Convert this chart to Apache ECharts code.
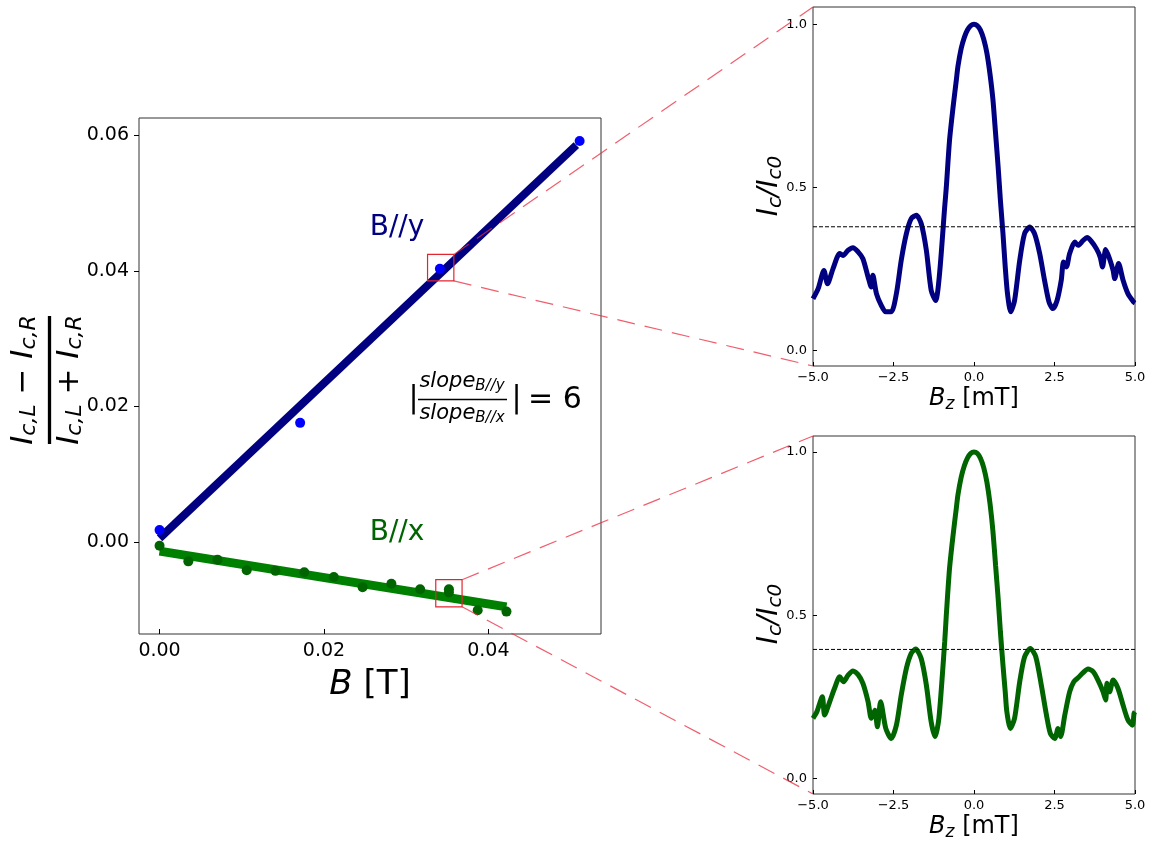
<!DOCTYPE html>
<html><head><meta charset="utf-8">
<script src="https://cdn.jsdelivr.net/npm/echarts@6/dist/echarts.min.js"></script>
<style>html,body{margin:0;padding:0;background:#fff}#c{width:1153px;height:842px}</style>
</head><body><div id="c"></div>
<script>
// ---------- main panel data ----------
const fieldY_B = [0.0, 0.0171, 0.0341, 0.0511];
const fieldY_V = [0.0018, 0.0176, 0.0403, 0.0591];
const fitY_B = [0.0, 0.0507];
const fitY_V = [0.0006, 0.0585];
const fieldX_B = [0.0, 0.0035, 0.00705, 0.0106, 0.0141, 0.0176, 0.0212, 0.0247, 0.0282, 0.0317, 0.0352, 0.0352, 0.0387, 0.0422];
const fieldX_V = [-0.0005, -0.0028, -0.00255, -0.0041, -0.0042, -0.0044, -0.0051, -0.0066, -0.0061, -0.0069, -0.0069, -0.0074, -0.0100, -0.0102];
const fitX_B = [0.0, 0.0422];
const fitX_V = [-0.0013, -0.0095];
const mainXTicks = [0, 0.02, 0.04];
const mainYTicks = [0, 0.02, 0.04, 0.06];
// zoom boxes (data coords of main panel)
const boxY_B = [0.0326, 0.0358];
const boxY_V = [0.0385, 0.0424];
const boxX_B = [0.0336, 0.0368];
const boxX_V = [-0.0095, -0.0055];

// ---------- inset curves ----------
const topBz = [-5.0,-4.84,-4.66,-4.55,-4.38,-4.17,-4.07,-3.91,-3.76,-3.60,-3.45,-3.29,-3.19,-3.14,-3.03,-2.88,-2.74,-2.57,-2.41,-2.26,-2.10,-1.95,-1.79,-1.64,-1.48,-1.33,-1.19,-1.07,-0.91,-0.86,-0.76,-0.65,-0.55,-0.5,-0.4,-0.3,-0.2,-0.1,0,0.1,0.2,0.3,0.4,0.5,0.59,0.67,0.75,0.82,0.90,0.97,1.04,1.14,1.26,1.42,1.57,1.73,1.88,2.04,2.19,2.33,2.45,2.58,2.71,2.78,2.87,2.97,3.13,3.23,3.39,3.51,3.64,3.80,3.92,3.99,4.09,4.21,4.32,4.37,4.49,4.63,4.78,4.96,5.0];
const topIc = [0.158,0.189,0.245,0.204,0.25,0.297,0.291,0.307,0.315,0.302,0.281,0.225,0.194,0.23,0.174,0.138,0.118,0.118,0.174,0.276,0.358,0.404,0.414,0.389,0.307,0.184,0.153,0.235,0.44,0.50,0.644,0.746,0.828,0.87,0.925,0.96,0.983,0.996,1.0,0.996,0.982,0.955,0.912,0.845,0.767,0.665,0.562,0.46,0.358,0.256,0.174,0.118,0.153,0.276,0.358,0.378,0.358,0.297,0.215,0.148,0.128,0.153,0.215,0.271,0.256,0.297,0.332,0.322,0.337,0.346,0.335,0.312,0.286,0.256,0.309,0.281,0.245,0.22,0.266,0.215,0.174,0.148,0.145];
const botBz = [-5.0,-4.88,-4.71,-4.64,-4.48,-4.33,-4.17,-4.05,-3.91,-3.76,-3.60,-3.45,-3.29,-3.19,-3.08,-3.00,-2.90,-2.74,-2.57,-2.41,-2.26,-2.10,-1.95,-1.81,-1.64,-1.48,-1.33,-1.21,-1.09,-0.91,-0.86,-0.76,-0.65,-0.55,-0.5,-0.4,-0.3,-0.2,-0.1,0,0.1,0.2,0.3,0.4,0.5,0.59,0.67,0.75,0.82,0.90,0.97,1.02,1.13,1.26,1.42,1.57,1.75,1.92,2.09,2.25,2.37,2.51,2.61,2.69,2.82,2.97,3.10,3.23,3.39,3.54,3.70,3.85,4.01,4.09,4.13,4.21,4.32,4.47,4.63,4.78,4.92,4.97,5.0];
const botIc = [0.184,0.204,0.25,0.194,0.235,0.276,0.311,0.296,0.316,0.329,0.318,0.291,0.235,0.184,0.209,0.158,0.235,0.153,0.122,0.163,0.255,0.337,0.383,0.396,0.367,0.286,0.173,0.128,0.184,0.418,0.50,0.643,0.745,0.827,0.868,0.922,0.958,0.982,0.996,1.0,0.996,0.981,0.953,0.908,0.84,0.755,0.653,0.551,0.449,0.347,0.265,0.204,0.153,0.184,0.296,0.372,0.398,0.372,0.286,0.194,0.138,0.122,0.153,0.128,0.194,0.265,0.296,0.308,0.324,0.335,0.327,0.301,0.265,0.240,0.291,0.265,0.301,0.276,0.224,0.179,0.163,0.199,0.204];
const topThreshold = [0.379, 0.379];
const botThreshold = [0.395, 0.395];
const thresholdBz = [-5, 5];
const subXTicks = [-5, -2.5, 0, 2.5, 5];
const subYTicks = [0, 0.5, 1.0];

const FONT = 'DejaVu Sans';
const zip = (a, b) => a.map((v, i) => [v, b[i]]);
const fmt2 = v => { const s = Math.abs(v).toFixed(2); return v < -1e-12 ? '\u2212' + s : s; };
const fmt1 = v => { const s = Math.abs(v).toFixed(1); return v < -1e-12 ? '\u2212' + s : s; };

function xAx(grid, min, max, ticks, fmt, fs, margin, name, nameGap, nameFs, subFs) {
  return {
    gridIndex: grid, type: 'value', min: min, max: max,
    axisLine: { show: false, onZero: false }, splitLine: { show: false },
    axisTick: { show: true, inside: true, length: grid === 0 ? 5 : 4, lineStyle: { color: '#000', width: 1 }, customValues: ticks },
    axisLabel: { customValues: ticks, formatter: fmt, fontSize: fs, color: '#000', fontFamily: FONT, margin: margin },
    name: name, nameLocation: 'middle', nameGap: nameGap,
    nameTextStyle: { fontSize: nameFs, fontFamily: FONT, color: '#000', lineHeight: nameFs,
      rich: { i: { fontStyle: 'italic', fontSize: nameFs, fontFamily: FONT, color: '#000', lineHeight: nameFs + 4 },
              s: { fontStyle: 'italic', fontSize: subFs, fontFamily: FONT, color: '#000', lineHeight: subFs - 2, verticalAlign: 'bottom' },
              r: { fontSize: nameFs, fontFamily: FONT, color: '#000', lineHeight: nameFs + 4 } } }
  };
}
function yAx(grid, min, max, ticks, fmt, fs, margin, inside, len) {
  return {
    gridIndex: grid, type: 'value', min: min, max: max,
    axisLine: { show: false, onZero: false }, splitLine: { show: false },
    axisTick: { show: true, inside: inside, length: len, lineStyle: { color: '#000', width: 1 }, customValues: ticks },
    axisLabel: { customValues: ticks, formatter: fmt, fontSize: fs, color: '#000', fontFamily: FONT, margin: margin }
  };
}

const gridStyle = { show: true, borderColor: '#333', borderWidth: 1, backgroundColor: 'transparent', containLabel: false };

const option = {
  animation: false,
  backgroundColor: '#fff',
  grid: [
    Object.assign({ left: 139, top: 118, width: 462, height: 516 }, gridStyle),
    Object.assign({ left: 813, top: 7, width: 322, height: 359 }, gridStyle),
    Object.assign({ left: 813, top: 436, width: 322, height: 358 }, gridStyle)
  ],
  xAxis: [
    xAx(0, -0.0025, 0.0537, mainXTicks, fmt2, 19, 8, '{i|B}{r| [T]}', 26, 34, 24),
    xAx(1, -5, 5, subXTicks, fmt1, 13, 5, '{i|B}{s|z}{r| [mT]}', 16, 24, 17),
    xAx(2, -5, 5, subXTicks, fmt1, 13, 5, '{i|B}{s|z}{r| [mT]}', 16, 24, 17)
  ],
  yAxis: [
    yAx(0, -0.0135, 0.0625, mainYTicks, fmt2, 19, 10, false, 5),
    yAx(1, -0.048, 1.053, subYTicks, fmt1, 13, 6, true, 4),
    yAx(2, -0.048, 1.049, subYTicks, fmt1, 13, 6, true, 4)
  ],
  series: [
    { type: 'line', xAxisIndex: 0, yAxisIndex: 0, data: zip(fitX_B, fitX_V), symbol: 'none',
      lineStyle: { color: '#008000', width: 9, cap: 'butt' }, z: 2 },
    { type: 'line', xAxisIndex: 0, yAxisIndex: 0, data: zip(fitY_B, fitY_V), symbol: 'none',
      lineStyle: { color: '#000080', width: 8, cap: 'butt' }, z: 2 },
    { type: 'scatter', xAxisIndex: 0, yAxisIndex: 0, data: zip(fieldY_B, fieldY_V), symbolSize: 10,
      itemStyle: { color: '#0000ff', opacity: 1 }, z: 3 },
    { type: 'scatter', xAxisIndex: 0, yAxisIndex: 0, data: zip(fieldX_B, fieldX_V), symbolSize: 10,
      itemStyle: { color: '#006400', opacity: 1 }, z: 3 },
    { type: 'line', xAxisIndex: 1, yAxisIndex: 1, data: zip(topBz, topIc), symbol: 'none', smooth: 0.25,
      lineStyle: { color: '#000080', width: 5 }, z: 2 },
    { type: 'line', xAxisIndex: 1, yAxisIndex: 1, data: zip(thresholdBz, topThreshold), symbol: 'none',
      lineStyle: { color: '#000', width: 1, type: [4, 2] }, z: 3 },
    { type: 'line', xAxisIndex: 2, yAxisIndex: 2, data: zip(botBz, botIc), symbol: 'none', smooth: 0.25,
      lineStyle: { color: '#006400', width: 5 }, z: 2 },
    { type: 'line', xAxisIndex: 2, yAxisIndex: 2, data: zip(thresholdBz, botThreshold), symbol: 'none',
      lineStyle: { color: '#000', width: 1, type: [4, 2] }, z: 3 }
  ]
};

const chart = echarts.init(document.getElementById('c'), null, { renderer: 'canvas' });
chart.setOption(option);

// ---------- annotations ----------
const px = (g, p) => chart.convertToPixel({ gridIndex: g }, p);
const RED = '#e3262e';
const DASH = 'rgba(235,40,60,0.75)';
const g = [];

function box(bs, vs) {
  const a = px(0, [bs[0], vs[1]]), b = px(0, [bs[1], vs[0]]);
  g.push({ type: 'rect', shape: { x: a[0], y: a[1], width: b[0] - a[0], height: b[1] - a[1] },
           style: { fill: 'none', stroke: RED, lineWidth: 1.2 }, z: 50 });
  return { tr: [b[0], a[1]], br: [b[0], b[1]] };
}
function dashLine(p1, p2) {
  g.push({ type: 'line', shape: { x1: p1[0], y1: p1[1], x2: p2[0], y2: p2[1] },
           style: { stroke: DASH, lineWidth: 1.2, lineDash: [18, 10] }, z: 60 });
}
const bY = box(boxY_B, boxY_V);
const bX = box(boxX_B, boxX_V);
dashLine(bY.tr, px(1, [-5, 1.053]));
dashLine(bY.br, px(1, [-5, -0.048]));
dashLine(bX.tr, px(2, [-5, 1.049]));
dashLine(bX.br, px(2, [-5, -0.048]));

// series labels
g.push({ type: 'text', x: 397, y: 228, style: { text: 'B//y', fill: '#000080', font: '28px "DejaVu Sans"', align: 'center', verticalAlign: 'middle' }, z: 40 });
g.push({ type: 'text', x: 397, y: 533, style: { text: 'B//x', fill: '#006400', font: '28px "DejaVu Sans"', align: 'center', verticalAlign: 'middle' }, z: 40 });

// slope ratio annotation
const richSlope = {
  i: { fontFamily: FONT, fontStyle: 'italic', fontSize: 21, lineHeight: 24, fill: '#000', color: '#000' },
  s: { fontFamily: FONT, fontStyle: 'italic', fontSize: 15, lineHeight: 14, verticalAlign: 'bottom', color: '#000' }
};
g.push({ type: 'text', x: 462, y: 394, style: { text: '{i|slope}{s|B//y}', rich: richSlope, align: 'center', verticalAlign: 'bottom', fill: '#000' }, z: 40 });
g.push({ type: 'text', x: 462, y: 402, style: { text: '{i|slope}{s|B//x}', rich: richSlope, align: 'center', verticalAlign: 'top', fill: '#000' }, z: 40 });
g.push({ type: 'line', shape: { x1: 418, y1: 399.5, x2: 507, y2: 399.5 }, style: { stroke: '#000', lineWidth: 1.5 }, z: 40 });
g.push({ type: 'text', x: 413.5, y: 399, style: { text: '|', font: '30px "DejaVu Sans"', fill: '#000', align: 'center', verticalAlign: 'middle' }, z: 40 });
g.push({ type: 'text', x: 516.5, y: 399, style: { text: '|', font: '30px "DejaVu Sans"', fill: '#000', align: 'center', verticalAlign: 'middle' }, z: 40 });
g.push({ type: 'text', x: 528, y: 400, style: { text: '= 6', font: '30px "DejaVu Sans"', fill: '#000', align: 'left', verticalAlign: 'middle' }, z: 40 });

// main y-axis label (fraction), rotated
const richFrac = {
  i: { fontFamily: FONT, fontStyle: 'italic', fontSize: 31, lineHeight: 34, color: '#000' },
  s: { fontFamily: FONT, fontStyle: 'italic', fontSize: 22, lineHeight: 18, verticalAlign: 'bottom', color: '#000' },
  o: { fontFamily: FONT, fontSize: 31, lineHeight: 34, color: '#000' }
};
g.push({ type: 'group', x: 49.5, y: 380, rotation: Math.PI / 2, z: 40, children: [
  { type: 'text', x: 0, y: -9, style: { text: '{i|I}{s|c,L}{o| \u2212 }{i|I}{s|c,R}', rich: richFrac, align: 'center', verticalAlign: 'bottom' } },
  { type: 'text', x: 0, y: 3, style: { text: '{i|I}{s|c,L}{o| + }{i|I}{s|c,R}', rich: richFrac, align: 'center', verticalAlign: 'top' } },
  { type: 'line', shape: { x1: -64, y1: 0, x2: 64, y2: 0 }, style: { stroke: '#000', lineWidth: 3.3 } }
] });

// inset y labels
const richIc = {
  i: { fontFamily: FONT, fontStyle: 'italic', fontSize: 28, lineHeight: 31, color: '#000' },
  s: { fontFamily: FONT, fontStyle: 'italic', fontSize: 20, lineHeight: 16, verticalAlign: 'bottom', color: '#000' },
  o: { fontFamily: FONT, fontStyle: 'italic', fontSize: 28, lineHeight: 31, color: '#000' }
};
[186, 614].forEach(cy => {
  g.push({ type: 'text', x: 770, y: cy, rotation: Math.PI / 2, z: 40,
           style: { text: '{i|I}{s|c}{o|/}{i|I}{s|c0}', rich: richIc, align: 'center', verticalAlign: 'middle' } });
});

chart.setOption({ graphic: { elements: g } });
</script>
</body></html>
